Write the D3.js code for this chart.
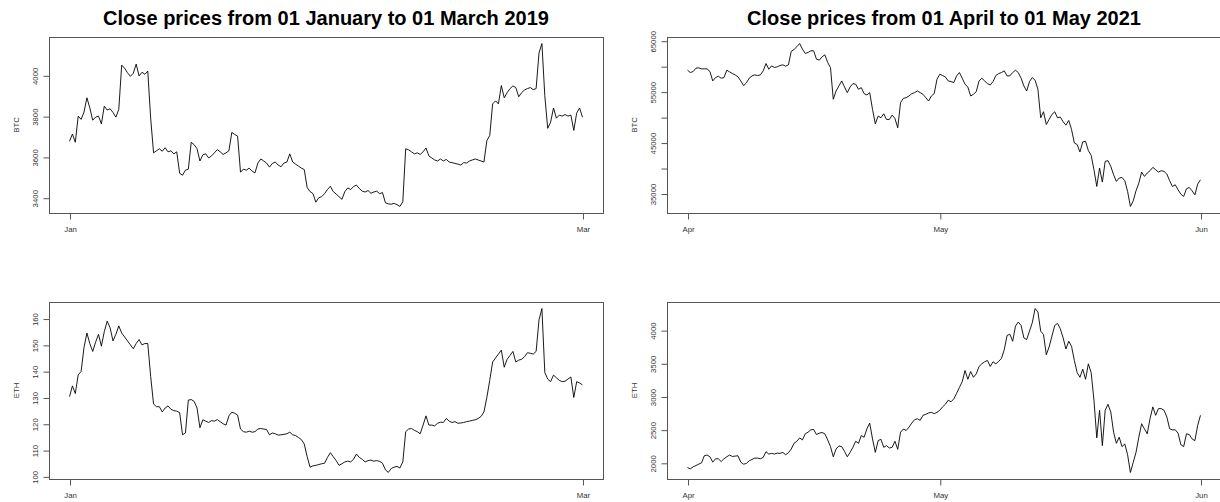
<!DOCTYPE html>
<html>
<head>
<meta charset="utf-8">
<script src="https://cdn.jsdelivr.net/npm/d3@7"></script>
<style>
body { margin: 0; background: #fff; }
svg { display: block; font-family: "Liberation Sans", Arial, sans-serif; }
</style>
</head>
<body>
<svg></svg>
<script>
// close prices, one value every 8 hours
const stepHours = 8;

const start2019 = "2019-01-01T00:00:00Z";
const btc2019 = [3677, 3712, 3672, 3800, 3784, 3820, 3890, 3841, 3780, 3795, 3800, 3762, 3849, 3830, 3836, 3818, 3795, 3833,
  4050, 4035, 4013, 3995, 4010, 4055, 3997, 4015, 4005, 4021, 3790, 3620, 3630, 3640, 3628, 3645, 3625, 3630, 3615, 3625, 3520,
  3510, 3535, 3540, 3672, 3660, 3640, 3580, 3610, 3615, 3595, 3605, 3620, 3636, 3625, 3612, 3620, 3630, 3720, 3710, 3702, 3525,
  3540, 3535, 3545, 3530, 3522, 3570, 3590, 3580, 3570, 3550, 3568, 3575, 3560, 3552, 3570, 3575, 3615, 3575, 3565, 3555, 3545,
  3538, 3450, 3430, 3420, 3378, 3400, 3405, 3420, 3440, 3456, 3430, 3418, 3405, 3392, 3430, 3448, 3440, 3455, 3462, 3445, 3432,
  3428, 3435, 3422, 3428, 3432, 3420, 3425, 3375, 3370, 3368, 3372, 3366, 3357, 3380, 3640, 3635, 3625, 3615, 3620, 3612, 3625,
  3644, 3605, 3595, 3585, 3580, 3590, 3580, 3588, 3575, 3572, 3568, 3565, 3560, 3572, 3570, 3580, 3585, 3590, 3585, 3580, 3575,
  3680, 3705, 3860, 3875, 3860, 3950, 3890, 3915, 3935, 3948, 3940, 3895, 3915, 3928, 3935, 3940, 3930, 3935, 4110, 4156, 3900,
  3740, 3770, 3840, 3790, 3805, 3800, 3808, 3800, 3805, 3730, 3815, 3840, 3795];
const eth2019 = [130.3, 134.4, 131.5, 138.6, 139.9, 149, 154.5, 150.5, 147.5, 151, 154, 149.5, 155, 159, 156.5, 151.5, 154, 157.2,
  154.5, 153, 151.5, 150, 148.5, 150.5, 152, 150, 150.5, 150.5, 138, 127.5, 126.5, 126.5, 124.5, 126, 126.8, 125.5, 125, 124.8,
  124.2, 115.8, 116.5, 129, 129.2, 128.5, 126, 118.5, 121.5, 121, 120.5, 121.2, 121, 121.6, 120.8, 120, 119.5, 123, 124.4, 124,
  123.3, 118, 117, 116.8, 117.2, 116.8, 117, 118, 118.2, 118, 117.8, 115.8, 116.5, 116.2, 115.7, 115.8, 116, 116.2, 116.8, 115.8,
  115.5, 114.8, 114, 112.3, 107.5, 103.5, 104, 104.2, 104.5, 104.8, 105, 107.2, 109, 107.5, 106, 104.2, 104.8, 105.5, 105.8, 105.5,
  106.5, 108.5, 107.2, 106.5, 105.5, 106, 106.2, 105.8, 106, 105.7, 105, 102.5, 101.5, 103, 103.5, 103.8, 103.2, 105.5, 117, 118,
  118.2, 117.5, 117, 116.2, 119.5, 123, 119.5, 119.5, 119.2, 120.2, 120.6, 120.5, 122, 121, 120.5, 120.8, 120.2, 120.3, 120.5,
  120.8, 121, 121.3, 121.5, 122, 122.8, 124.5, 130, 136.5, 143.5, 145, 146.5, 148, 141.5, 144.5, 146, 147.5, 143.5, 144.2, 144.5,
  145.5, 147, 146.8, 146.5, 147.5, 159.5, 163.8, 139.5, 137, 136, 138.5, 137.5, 136.5, 136, 136.2, 137, 137.8, 130, 136, 135.5, 134.8];

const start2021 = "2021-04-01T00:00:00Z";
const btc2021 = [59211, 58750, 58947, 59605, 59671, 59474, 59474, 59474, 58947, 57105, 57763, 58026, 57632, 57763, 59211, 58882,
  58553, 58289, 57895, 57105, 56184, 56711, 57632, 58092, 58289, 58158, 58289, 59079, 60526, 59408, 60066, 59737, 59868, 60132,
  60263, 60000, 60263, 62895, 63289, 63816, 64450, 63355, 62500, 62697, 63026, 63026, 61382, 61184, 61842, 62237, 60724, 59737,
  53500, 55132, 56118, 57105, 55921, 54803, 55921, 56579, 56447, 55461, 55789, 54605, 54342, 54803, 51513, 48684, 50197, 49868,
  50658, 49539, 49539, 50395, 49737, 47900, 52829, 53684, 53816, 54145, 54605, 54803, 55132, 54803, 54474, 53816, 53158, 54145,
  54605, 57434, 58421, 58158, 57895, 57105, 56974, 56776, 58092, 58750, 57632, 56447, 55921, 54145, 54474, 55000, 57105, 57632,
  57105, 56579, 56316, 56974, 58158, 58553, 58750, 59079, 58092, 58092, 58750, 59211, 58750, 57632, 56118, 55132, 56974, 57763,
  57237, 55461, 49868, 51053, 48553, 49539, 50526, 51053, 49868, 50000, 49079, 48421, 49342, 47566, 44934, 44605, 43158, 45132,
  45263, 43421, 42500, 39671, 36382, 40000, 37237, 41316, 41447, 40329, 38684, 37368, 38026, 38158, 37500, 35395, 32450, 33553,
  35526, 37039, 39211, 38355, 39013, 39474, 40132, 39671, 39211, 39474, 39342, 38816, 37500, 36382, 36711, 35724, 34868, 34408,
  35921, 36184, 35526, 34737, 36842, 37697];
const eth2021 = [1929, 1909, 1939, 1959, 1980, 2000, 2107, 2117, 2091, 2010, 2061, 2061, 2020, 2061, 2091, 2117, 2096, 2101, 2107,
  2010, 1980, 1990, 2030, 2051, 2071, 2071, 2061, 2081, 2168, 2132, 2142, 2132, 2147, 2142, 2157, 2122, 2152, 2208, 2294, 2325,
  2376, 2345, 2437, 2462, 2497, 2503, 2426, 2447, 2457, 2437, 2345, 2244, 2091, 2208, 2254, 2244, 2173, 2091, 2157, 2234, 2325,
  2294, 2411, 2386, 2513, 2599, 2360, 2157, 2335, 2355, 2234, 2259, 2223, 2234, 2325, 2203, 2462, 2508, 2487, 2538, 2599, 2650,
  2665, 2640, 2716, 2731, 2751, 2761, 2741, 2761, 2792, 2843, 2883, 2944, 2919, 2964, 3046, 3137, 3223, 3391, 3259, 3376, 3289,
  3340, 3452, 3492, 3523, 3543, 3452, 3523, 3492, 3528, 3574, 3706, 3919, 3939, 3832, 4061, 4122, 4071, 3883, 3858, 3985, 4112,
  4325, 4274, 3985, 3934, 3629, 3746, 3909, 4071, 4102, 4020, 3883, 3716, 3832, 3756, 3543, 3360, 3289, 3411, 3259, 3492, 3360,
  2944, 2376, 2792, 2259, 2792, 2883, 2766, 2462, 2294, 2386, 2244, 2284, 2122, 1855, 2005, 2157, 2386, 2589, 2513, 2437, 2665,
  2843, 2716, 2817, 2817, 2792, 2690, 2513, 2497, 2497, 2447, 2274, 2244, 2437, 2426, 2360, 2335, 2564, 2716];

// axis ticks
const monthTicks2019 = ["2019-01-01T00:00:00Z", "2019-03-01T00:00:00Z"];
const monthLabels2019 = ["Jan", "Mar"];
const monthTicks2021 = ["2021-04-01T00:00:00Z", "2021-05-01T00:00:00Z", "2021-06-01T00:00:00Z"];
const monthLabels2021 = ["Apr", "May", "Jun"];
const btc2019Ticks = [3400, 3600, 3800, 4000];
const eth2019Ticks = [100, 110, 120, 130, 140, 150, 160];
const btc2021Ticks = [35000, 40000, 45000, 50000, 55000, 60000, 65000];
const btc2021Labels = ["35000", "", "45000", "", "55000", "", "65000"];
const eth2021Ticks = [2000, 2500, 3000, 3500, 4000];

const svg = d3.select("svg").attr("width", 1220).attr("height", 502);
svg.append("rect").attr("width", 1220).attr("height", 502).attr("fill", "#fff");

const panels = [
  { left: 49, top: 37, w: 554, h: 176, start: start2019, values: btc2019, ylab: "BTC",
    xTicks: monthTicks2019, xLabels: monthLabels2019, yTicks: btc2019Ticks, yLabels: btc2019Ticks.map(String),
    title: "Close prices from 01 January to 01 March 2019" },
  { left: 49, top: 302, w: 554, h: 177, start: start2019, values: eth2019, ylab: "ETH",
    xTicks: monthTicks2019, xLabels: monthLabels2019, yTicks: eth2019Ticks, yLabels: eth2019Ticks.map(String) },
  { left: 667, top: 37, w: 554, h: 176, start: start2021, values: btc2021, ylab: "BTC",
    xTicks: monthTicks2021, xLabels: monthLabels2021, yTicks: btc2021Ticks, yLabels: btc2021Labels,
    title: "Close prices from 01 April to 01 May 2021" },
  { left: 667, top: 302, w: 554, h: 177, start: start2021, values: eth2021, ylab: "ETH",
    xTicks: monthTicks2021, xLabels: monthLabels2021, yTicks: eth2021Ticks, yLabels: eth2021Ticks.map(String) }
];

const fontSize = 7.8;
const textColor = "#333";

panels.forEach(p => {
  const t0 = new Date(p.start);
  const dates = p.values.map((v, i) => d3.utcHour.offset(t0, i * stepHours));

  // R style: extend the data range by 4% on each side
  const [xa, xb] = d3.extent(dates);
  const padX = (xb - xa) * 0.04;
  const x = d3.scaleUtc()
    .domain([new Date(+xa - padX), new Date(+xb + padX)])
    .range([p.left, p.left + p.w]);

  const [ya, yb] = d3.extent(p.values);
  const padY = (yb - ya) * 0.04;
  const y = d3.scaleLinear()
    .domain([ya - padY, yb + padY])
    .range([p.top + p.h, p.top]);

  const g = svg.append("g");

  g.append("path")
    .datum(p.values)
    .attr("fill", "none")
    .attr("stroke", "#000")
    .attr("stroke-width", 0.9)
    .attr("stroke-linejoin", "round")
    .attr("d", d3.line().x((d, i) => x(dates[i])).y(d => y(d)));

  g.append("rect")
    .attr("x", p.left + 0.5).attr("y", p.top + 0.5)
    .attr("width", p.w).attr("height", p.h)
    .attr("fill", "none")
    .attr("stroke", "#555")
    .attr("stroke-width", 1);

  const xAxis = g.append("g")
    .attr("transform", `translate(0.5, ${p.top + p.h + 0.5})`)
    .call(d3.axisBottom(x)
      .tickValues(p.xTicks.map(d => new Date(d)))
      .tickFormat((d, i) => p.xLabels[i])
      .tickSize(6)
      .tickPadding(6.5));
  xAxis.select(".domain").remove();
  xAxis.attr("font-size", fontSize).attr("font-family", null);
  xAxis.selectAll("line").attr("stroke", "#555");
  xAxis.selectAll("text").attr("fill", textColor);

  const yAxis = g.append("g")
    .attr("transform", `translate(${p.left + 0.5}, 0.5)`)
    .call(d3.axisLeft(y)
      .tickValues(p.yTicks)
      .tickFormat((d, i) => p.yLabels[i])
      .tickSize(6));
  yAxis.select(".domain").remove();
  yAxis.attr("font-size", fontSize).attr("font-family", null);
  yAxis.selectAll("line").attr("stroke", "#555");
  yAxis.selectAll("text")
    .attr("x", 0).attr("dy", null)
    .attr("text-anchor", "middle")
    .attr("fill", textColor)
    .attr("transform", "translate(-11.2, 0) rotate(-90)");

  g.append("text")
    .attr("transform", `translate(${p.left - 30.2}, ${p.top + p.h / 2}) rotate(-90)`)
    .attr("text-anchor", "middle")
    .attr("font-size", fontSize)
    .attr("fill", textColor)
    .text(p.ylab);

  if (p.title) {
    g.append("text")
      .attr("x", p.left + p.w / 2)
      .attr("y", 25)
      .attr("text-anchor", "middle")
      .attr("font-size", 20)
      .attr("font-weight", "bold")
      .attr("fill", "#000")
      .text(p.title);
  }
});
</script>
</body>
</html>
